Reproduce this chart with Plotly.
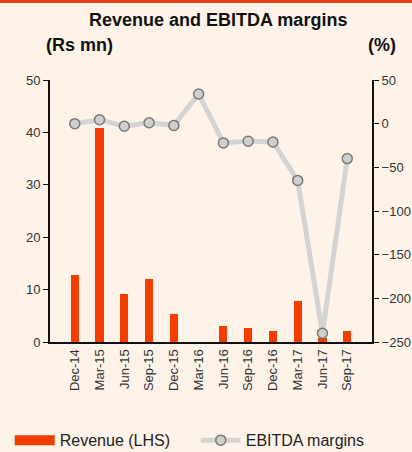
import plotly.graph_objects as go

quarters = ["Dec-14", "Mar-15", "Jun-15", "Sep-15", "Dec-15", "Mar-16",
            "Jun-16", "Sep-16", "Dec-16", "Mar-17", "Jun-17", "Sep-17"]
revenue = [12.8, 40.8, 9.1, 12.1, 5.4, 0.0, 3.0, 2.6, 2.1, 7.9, 0.8, 2.1]
ebitda_margin = [0, 4.5, -3, 1, -2, 34, -22, -20, -21, -65, -240, -40]

left_ticks = [0, 10, 20, 30, 40, 50]
right_ticks = [50, 0, -50, -100, -150, -200, -250]

BG = "#FDF3E9"
BAR = "#F23C00"
font_family = "Liberation Sans, Arial, sans-serif"

fig = go.Figure()
fig.add_trace(go.Bar(
    x=list(range(len(quarters))), y=revenue, name="Revenue (LHS)",
    marker=dict(color=BAR, line=dict(width=0)), width=0.33,
    showlegend=False, legendgroup="rev",
))
# legend entry for revenue drawn as a wide block (like the original)
fig.add_trace(go.Scatter(
    x=[None], y=[None], name="Revenue (LHS)", mode="lines",
    line=dict(color=BAR, width=12), legendgroup="rev", hoverinfo="skip",
))
fig.add_trace(go.Scatter(
    x=list(range(len(quarters))), y=ebitda_margin, name="EBITDA margins",
    yaxis="y2", mode="lines+markers",
    line=dict(color="#D4D4D4", width=5),
    marker=dict(size=10, color="#CFCFCF", line=dict(color="#7A7A7A", width=1.5)),
))

fig.update_layout(
    width=412, height=452,
    paper_bgcolor=BG, plot_bgcolor=BG,
    margin=dict(l=50, r=40, t=80, b=110, autoexpand=False),
    font=dict(family=font_family, size=13, color="#333333"),
    showlegend=True,
    legend=dict(orientation="h", x=-0.125, y=-0.375, xanchor="left", yanchor="middle",
                font=dict(size=16, color="#222222"), bgcolor="rgba(0,0,0,0)",
                itemwidth=40, tracegroupgap=0, entrywidth=131),
    bargap=0,
    xaxis=dict(
        range=[-1, 12], tickmode="array", tickvals=list(range(len(quarters))),
        ticktext=quarters, tickangle=-90, showgrid=False, zeroline=False,
        showline=True, linecolor="#111111", linewidth=2, ticks="",
        tickfont=dict(size=13, color="#333333"),
    ),
    yaxis=dict(
        range=[0, 50], tickvals=left_ticks, showgrid=False, zeroline=False,
        showline=True, linecolor="#111111", linewidth=2, ticks="outside",
        ticklen=5, tickcolor="#111111", tickwidth=1,
        tickfont=dict(size=13, color="#333333"),
    ),
    yaxis2=dict(
        range=[-250, 50], tickvals=right_ticks, overlaying="y", side="right",
        showgrid=False, zeroline=False, showline=True, linecolor="#111111",
        linewidth=2, ticks="outside", ticklen=5, tickcolor="#111111", tickwidth=1,
        tickfont=dict(size=13, color="#333333"),
    ),
    shapes=[dict(type="rect", xref="paper", yref="paper", x0=-0.2, x1=1.2,
                 y0=1 + 77 / 262, y1=1 + 82 / 262, fillcolor="#E5431A", line=dict(width=0))],
    annotations=[
        dict(text="<b>Revenue and EBITDA margins</b>", xref="paper", yref="paper",
             x=(218 - 50) / 322, y=1 + 60 / 262,
             xanchor="center", yanchor="middle", showarrow=False,
             font=dict(size=18, color="#111111")),
        dict(text="<b>(Rs mn)</b>", xref="paper", yref="paper",
             x=(44 - 50) / 322, y=1 + 35 / 262, xanchor="left", yanchor="middle",
             showarrow=False, font=dict(size=18, color="#111111")),
        dict(text="<b>(%)</b>", xref="paper", yref="paper",
             x=(398 - 50) / 322, y=1 + 35 / 262, xanchor="right", yanchor="middle",
             showarrow=False, font=dict(size=18, color="#111111")),
    ],
)

post = ("document.body.style.margin='0';document.body.style.padding='0';"
        "document.body.style.overflow='hidden';"
        "document.documentElement.style.overflow='hidden';")
fig.write_html("out.html", post_script=post, config={"displayModeBar": False})
